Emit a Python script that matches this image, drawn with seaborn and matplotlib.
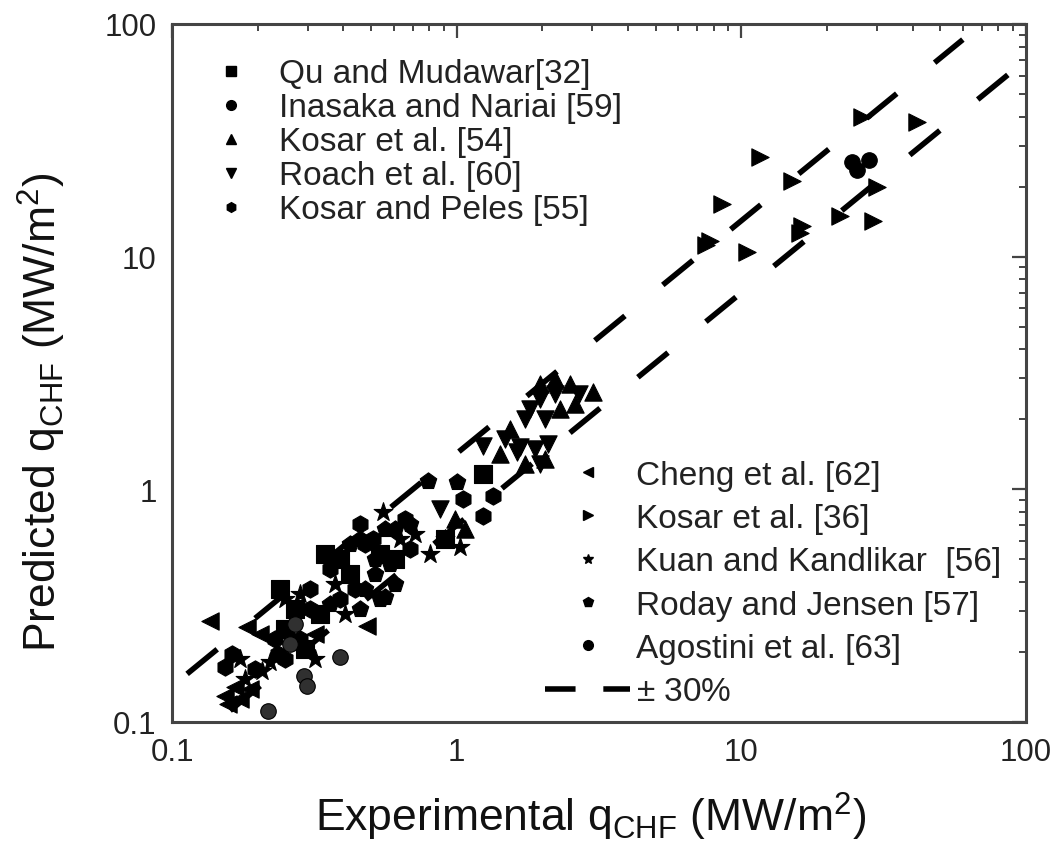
import numpy as np
import pandas as pd
import matplotlib
matplotlib.use('Agg')
import matplotlib.pyplot as plt
import seaborn as sns
from matplotlib.lines import Line2D
from matplotlib.ticker import LogLocator, FuncFormatter, NullFormatter

# CHF data (MW/m2): experimental x, predicted y
qu_x = [1.24, 0.91, 0.607, 0.538, 0.422, 0.331, 0.293, 0.345, 0.389, 0.239, 0.270, 0.249]
qu_y = [1.16, 0.61, 0.502, 0.527, 0.433, 0.291, 0.206, 0.527, 0.502, 0.373, 0.306, 0.251]

inasaka_x = [24.5, 28.0, 25.5]
inasaka_y = [25.5, 26.0, 23.5]

kosar54_x = [1.96, 2.50, 3.01, 2.31, 2.60, 1.74, 2.04, 0.986, 1.07, 1.54, 2.21, 1.42]
kosar54_y = [2.83, 2.83, 2.62, 2.21, 2.33, 1.28, 1.35, 0.745, 0.675, 1.82, 2.98, 1.42]

roach_x = [2.21, 1.81, 2.04, 1.48, 1.67, 1.88, 2.09, 1.24, 1.63, 0.874, 1.74, 1.96, 2.70, 1.96]
roach_y = [2.57, 2.21, 2.00, 1.64, 1.52, 1.49, 1.57, 1.53, 1.45, 0.823, 2.00, 2.44, 2.57, 1.28]

peles_x = [1.24, 1.05, 1.34, 0.476, 0.508, 0.686, 0.359, 0.389, 0.154, 0.196, 0.249,
           0.162, 0.236, 0.305, 0.439, 0.457, 0.658, 0.305, 0.282, 0.230]
peles_y = [0.768, 0.908, 0.936, 0.582, 0.612, 0.554, 0.454, 0.338, 0.172, 0.169, 0.187,
           0.196, 0.196, 0.373, 0.373, 0.710, 0.745, 0.306, 0.227, 0.227]

cheng_x = [0.136, 0.183, 0.203, 0.154, 0.173, 0.188, 0.484, 0.318, 0.157, 0.166]
cheng_y = [0.272, 0.256, 0.240, 0.129, 0.126, 0.139, 0.259, 0.239, 0.120, 0.141]

kosar36_x = [11.6, 15.1, 8.55, 7.76, 7.5, 10.5, 16.3, 16.1, 22.2, 29.0, 41.4, 26.5, 29.9]
kosar36_y = [26.8, 21.1, 16.8, 11.7, 11.2, 10.5, 13.5, 12.7, 14.9, 14.2, 37.9, 39.8, 19.9]

kuan_x = [0.551, 0.910, 0.806, 1.03, 0.249, 0.282, 0.173, 0.221, 0.180, 0.207, 0.374,
          0.405, 0.632, 0.714, 0.318]
kuan_y = [0.799, 0.612, 0.527, 0.565, 0.338, 0.355, 0.187, 0.181, 0.153, 0.166, 0.392,
          0.291, 0.612, 0.643, 0.187]

roday_x = [0.793, 1.0, 0.516, 0.607, 0.560, 0.476, 0.538, 0.457, 0.607, 0.686, 0.457,
           0.359, 0.516, 0.560, 0.583, 0.422]
roday_y = [1.086, 1.075, 0.433, 0.392, 0.345, 0.373, 0.338, 0.306, 0.675, 0.71, 0.612,
           0.321, 0.502, 0.675, 0.478, 0.582]

agostini_x = [0.389, 0.29, 0.298, 0.217, 0.270, 0.260]
agostini_y = [0.19, 0.158, 0.143, 0.111, 0.264, 0.216]

# +-30% band end points
band_hi_x = [0.113, 60.0]
band_hi_y = [0.161, 85.7]
band_lo_x = [0.16, 88.0]
band_lo_y = [0.112, 61.6]

groups = [
    ('Qu and Mudawar[32]', qu_x, qu_y, 's'),
    ('Inasaka and Nariai [59]', inasaka_x, inasaka_y, 'o'),
    ('Kosar et al. [54]', kosar54_x, kosar54_y, '^'),
    ('Roach et al. [60]', roach_x, roach_y, 'v'),
    ('Kosar and Peles [55]', peles_x, peles_y, 'h'),
    ('Cheng et al. [62]', cheng_x, cheng_y, '<'),
    ('Kosar et al. [36]', kosar36_x, kosar36_y, '>'),
    ('Kuan and Kandlikar  [56]', kuan_x, kuan_y, '*'),
    ('Roday and Jensen [57]', roday_x, roday_y, 'p'),
    ('Agostini et al. [63]', agostini_x, agostini_y, 'o'),
]

sns.set_style('white')
plt.rcParams['font.family'] = ['Liberation Sans', 'DejaVu Sans']
plt.rcParams['mathtext.fontset'] = 'custom'
plt.rcParams['mathtext.rm'] = 'Liberation Sans'

fig = plt.figure(figsize=(10.58, 8.62), dpi=100)
ax = fig.add_axes([172 / 1058, 139 / 862, 854 / 1058, 698 / 862])

for name, xs, ys, m in groups:
    df = pd.DataFrame({'x': xs, 'y': ys})
    fc = '#303030' if name.startswith('Agostini') else 'black'
    sz = 200 if m == '*' else (125 if m == 'o' else 155)
    sns.scatterplot(data=df, x='x', y='y', marker=m, s=sz, color=fc,
                    edgecolor='black', linewidth=0.8, ax=ax, zorder=3)

for bx, by in [(band_hi_x, band_hi_y), (band_lo_x, band_lo_y)]:
    sns.lineplot(x=bx, y=by, color='black', lw=4, linestyle=(0, (7, 8.8)),
                 ax=ax, zorder=2, estimator=None)

ax.set_xscale('log')
ax.set_yscale('log')
ax.set_xlim(0.1, 100)
ax.set_ylim(0.1, 100)

fmt = FuncFormatter(lambda v, p: '{:g}'.format(v))
for axis in (ax.xaxis, ax.yaxis):
    axis.set_major_locator(LogLocator(base=10))
    axis.set_minor_locator(LogLocator(base=10, subs=np.arange(2, 10)))
    axis.set_major_formatter(fmt)
    axis.set_minor_formatter(NullFormatter())

ax.tick_params(which='both', direction='in', top=True, right=True, colors='#444')
ax.tick_params(which='major', length=10, width=1.6, labelsize=22.5, pad=11, labelcolor='#222')
ax.tick_params(which='minor', length=5, width=1.4)
for sp in ax.spines.values():
    sp.set_color('#444')
    sp.set_linewidth(2.2)

ax.set_xlabel(r'Experimental q$_{\mathrm{CHF}}$ (MW/m$^2$)', fontsize=32, color='#111')
ax.set_ylabel(r'Predicted q$_{\mathrm{CHF}}$ (MW/m$^2$)', fontsize=32, color='#111')
ax.xaxis.set_label_coords(0.49, -0.097)
ax.yaxis.set_label_coords(-0.122, 0.445)

h1 = [Line2D([], [], marker=m, color='black', ls='none', markersize=7) for _, _, _, m in groups[:5]]
h2 = [Line2D([], [], marker=m, color='black', ls='none', markersize=7) for _, _, _, m in groups[5:]]
h2.append(Line2D([], [], color='black', lw=4, ls=(0, (5.5, 5))))
l1 = [g[0] for g in groups[:5]]
l2 = [g[0] for g in groups[5:]] + [r'$\pm$ 30%']

leg1 = ax.legend(h1, l1, loc='upper left', bbox_to_anchor=(0.019, 0.951), frameon=False,
                 fontsize=24, handlelength=2.55, handletextpad=0.18, labelspacing=0.09,
                 borderpad=0, borderaxespad=0)
for t in leg1.get_texts():
    t.set_color('#222')
ax.add_artist(leg1)
leg2 = ax.legend(h2, l2, loc='upper left', bbox_to_anchor=(0.437, 0.376), frameon=False,
                 fontsize=24, handlelength=2.55, handletextpad=0.18, labelspacing=0.37,
                 borderpad=0, borderaxespad=0)
for t in leg2.get_texts():
    t.set_color('#222')

fig.savefig('out.png', dpi=100)
